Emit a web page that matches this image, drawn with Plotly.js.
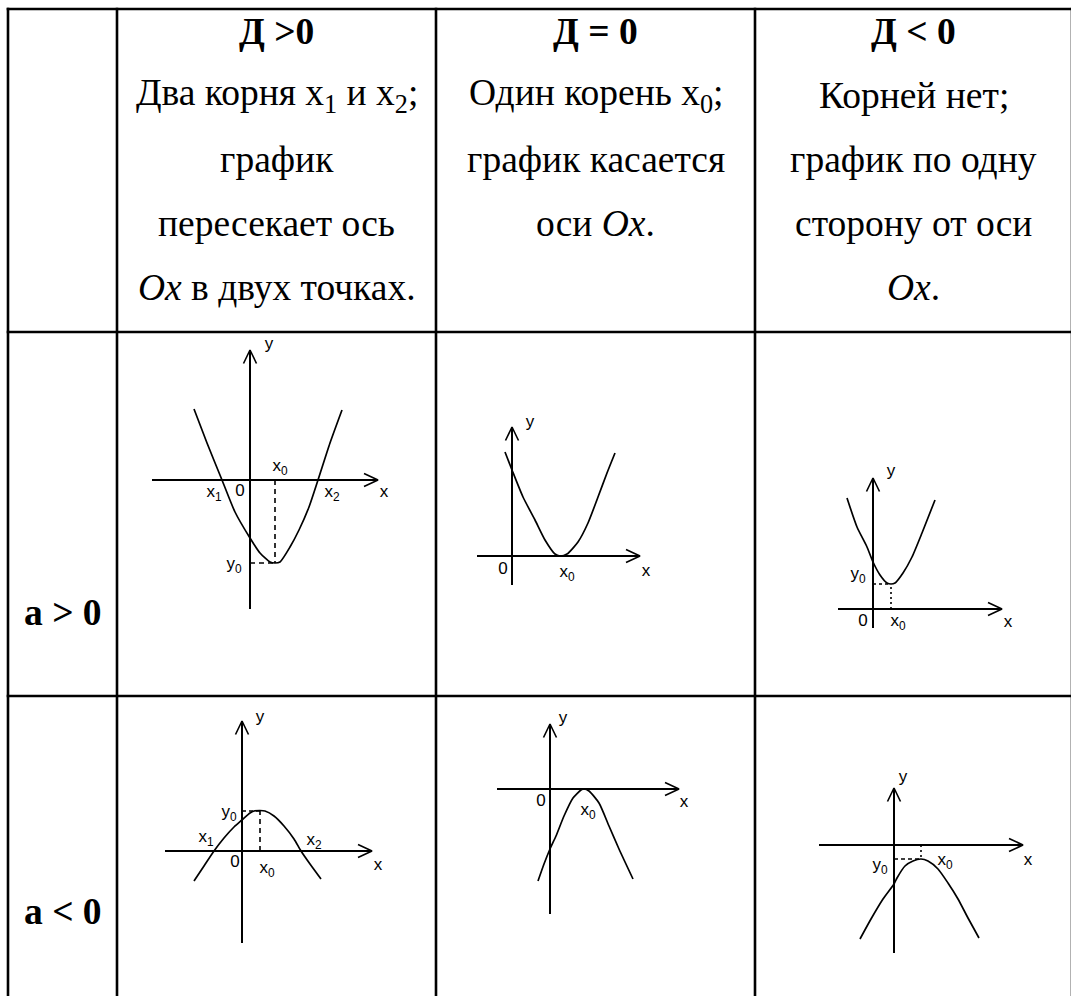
<!DOCTYPE html>
<html><head><meta charset="utf-8">
<script src="https://cdn.plot.ly/plotly-3.0.1.min.js"></script>
<style>html,body{margin:0;padding:0;background:#fff;}#chart{width:1071px;height:996px;}</style>
</head><body><div id="chart"></div>
<script>
// ---------- table text ----------
const headerTitles = ["Д &gt;0", "Д = 0", "Д &lt; 0"];
const headerLinesD1 = ["Два корня x<sub>1</sub> и x<sub>2</sub>;", "график", "пересекает ось", "<i>Ox</i> в двух точках."];
const headerLinesD2 = ["Один корень x<sub>0</sub>;", "график касается", "оси <i>Ox</i>."];
const headerLinesD3 = ["Корней нет;", "график по одну", "сторону от оси", "<i>Ox</i>."];
const rowLabels = ["a &gt; 0", "a &lt; 0"];

// ---------- sketch A: a>0, D>0 ----------
const A_curveX = [-5.6, -4.3, -2.8, -1.5, 0, 1.0, 2.0, 2.5, 3.0, 4.0, 4.9, 5.9, 6.8, 8.0, 9.2];
const A_curveY = [7.1, 3.7, 0, -3.2, -5.8, -7.3, -8.2, -8.3, -8.2, -6.7, -5.0, -2.7, 0, 3.7, 7.0];
const A_axisX = [-9.8, 12.8];
const A_axisY = [-12.9, 13.0];
const A_vertex = [2.5, -8.3];
const A_labelText = ["y", "x", "x<sub>0</sub>", "x<sub>1</sub>", "0", "x<sub>2</sub>", "y<sub>0</sub>"];
const A_labelX = [1.9, 13.4, 3.0, -3.6, -1.0, 8.2, -1.6];
const A_labelY = [13.5, -1.3, 1.3, -1.3, -1.2, -1.3, -8.5];

// ---------- sketch B: a>0, D=0 ----------
const B_curveX = [-0.7, 0, 1.1, 2.3, 3.3, 4.3, 4.8, 5.5, 6.6, 7.6, 8.6, 9.5, 10.3];
const B_curveY = [10.4, 8.6, 5.9, 3.6, 1.6, 0.2, 0, 0.2, 1.4, 3.3, 5.9, 8.3, 10.3];
const B_axisX = [-3.5, 12.8];
const B_axisY = [-2.9, 12.9];
const B_labelText = ["y", "x", "0", "x<sub>0</sub>"];
const B_labelX = [1.8, 13.4, -0.9, 5.5];
const B_labelY = [13.3, -1.6, -1.4, -1.7];

// ---------- sketch C: a>0, D<0 ----------
const C_curveX = [-2.6, -1.6, -0.6, 0, 0.7, 1.4, 1.8, 2.2, 3.0, 3.9, 4.9, 6.2];
const C_curveY = [11.1, 8.2, 6.2, 4.7, 3.4, 2.6, 2.5, 2.6, 3.6, 5.2, 7.6, 10.9];
const C_axisX = [-3.5, 12.9];
const C_axisY = [-1.9, 13.1];
const C_vertex = [1.8, 2.5];
const C_labelText = ["y", "x", "0", "x<sub>0</sub>", "y<sub>0</sub>"];
const C_labelX = [1.8, 13.5, -1.0, 2.5, -1.5];
const C_labelY = [13.7, -1.4, -1.3, -1.3, 3.4];

// ---------- sketch D: a<0, D>0 ----------
const D_curveX = [-4.8, -3.8, -2.8, -1.8, -0.8, 0, 0.8, 1.2, 1.8, 2.3, 3.2, 4.2, 5.2, 5.9, 6.8, 7.9];
const D_curveY = [-3.0, -1.5, 0, 1.3, 2.4, 3.1, 3.8, 4.0, 4.05, 4.0, 3.5, 2.5, 1.2, 0, -1.3, -2.8];
const D_axisX = [-7.7, 13.0];
const D_axisY = [-9.2, 13.0];
const D_vertex = [1.8, 4.0];
const D_labelText = ["y", "x", "0", "x<sub>0</sub>", "x<sub>1</sub>", "x<sub>2</sub>", "y<sub>0</sub>"];
const D_labelX = [1.8, 13.6, -0.7, 2.5, -3.6, 7.2, -1.3];
const D_labelY = [13.3, -1.5, -1.2, -1.8, 1.3, 1.0, 3.8];

// ---------- sketch E: a<0, D=0 ----------
const E_curveX = [-1.2, -0.6, 0, 0.6, 1.4, 2.3, 3.1, 3.4, 3.9, 4.9, 5.9, 6.9, 8.3];
const E_curveY = [-9.2, -7.5, -6.0, -4.7, -2.7, -0.9, -0.1, 0, -0.2, -1.4, -3.7, -6.0, -9.0];
const E_axisX = [-5.3, 12.9];
const E_axisY = [-12.5, 6.5];
const E_labelText = ["y", "x", "0", "x<sub>0</sub>"];
const E_labelX = [1.3, 13.4, -0.9, 3.8];
const E_labelY = [7.0, -1.4, -1.3, -2.2];

// ---------- sketch F: a<0, D<0 ----------
const F_curveX = [-3.4, -2.3, -1.1, 0, 0.3, 1.1, 1.9, 2.7, 3.4, 4.4, 5.4, 6.4, 7.4, 8.5];
const F_curveY = [-9.4, -7.4, -5.4, -3.9, -3.3, -2.1, -1.6, -1.4, -1.6, -2.4, -3.8, -5.4, -7.3, -9.3];
const F_axisX = [-7.5, 12.9];
const F_axisY = [-10.8, 5.7];
const F_vertex = [2.7, -1.4];
const F_labelText = ["y", "x", "y<sub>0</sub>", "x<sub>0</sub>"];
const F_labelX = [0.9, 13.4, -1.4, 5.1];
const F_labelY = [6.7, -1.6, -2.1, -1.6];

// ---------- layout geometry (pixels) ----------
const W = 1071, H = 996;
const colEdges = [8, 117, 436, 755, 1072];
const rowEdges = [9, 332, 696, 1000];
const UNIT = 10; // pixels per sketch unit
const serif = "Liberation Serif, Times New Roman, serif";
const sans = "Liberation Sans Narrow, Liberation Sans, Arial, sans-serif";
const headerSize = 37.5;
const labelSize = 17;
const baselines = [44, 108, 172, 236, 300];
const PX = v => v / W, PY = v => 1 - v / H;

const sketches = [
  {cell: [1, 1], origin: [250, 480], cx: A_curveX, cy: A_curveY, ax: A_axisX, ay: A_axisY, vtx: A_vertex, vd: "5px,4px", hd: "5px,4px", lt: A_labelText, lx: A_labelX, ly: A_labelY},
  {cell: [2, 1], origin: [512, 556], cx: B_curveX, cy: B_curveY, ax: B_axisX, ay: B_axisY, vtx: null, lt: B_labelText, lx: B_labelX, ly: B_labelY},
  {cell: [3, 1], origin: [873, 609], cx: C_curveX, cy: C_curveY, ax: C_axisX, ay: C_axisY, vtx: C_vertex, vd: "2px,3px", hd: "3px,3px", lt: C_labelText, lx: C_labelX, ly: C_labelY},
  {cell: [1, 2], origin: [242, 851], cx: D_curveX, cy: D_curveY, ax: D_axisX, ay: D_axisY, vtx: D_vertex, vd: "5px,4px", hd: "4px,3px", lt: D_labelText, lx: D_labelX, ly: D_labelY},
  {cell: [2, 2], origin: [550, 789], cx: E_curveX, cy: E_curveY, ax: E_axisX, ay: E_axisY, vtx: null, lt: E_labelText, lx: E_labelX, ly: E_labelY},
  {cell: [3, 2], origin: [894, 845], cx: F_curveX, cy: F_curveY, ax: F_axisX, ay: F_axisY, vtx: F_vertex, vd: "2px,3px", hd: "4px,3px", lt: F_labelText, lx: F_labelX, ly: F_labelY}
];

const data = [];
const layout = {
  width: W, height: H, autosize: false,
  margin: {l: 0, r: 0, t: 0, b: 0, pad: 0},
  paper_bgcolor: "#fff", plot_bgcolor: "rgba(0,0,0,0)",
  showlegend: false, hovermode: false,
  shapes: [], annotations: []
};

sketches.forEach((s, i) => {
  const suf = i === 0 ? "" : String(i + 1);
  const L = colEdges[s.cell[0]], R = Math.min(colEdges[s.cell[0] + 1], W);
  const T = rowEdges[s.cell[1]], B = Math.min(rowEdges[s.cell[1] + 1], H);
  const [ox, oy] = s.origin;
  layout["xaxis" + suf] = {domain: [PX(L), PX(R)], range: [(L - ox) / UNIT, (R - ox) / UNIT], visible: false, fixedrange: true, anchor: "y" + suf};
  layout["yaxis" + suf] = {domain: [1 - B / H, 1 - T / H], range: [(oy - B) / UNIT, (oy - T) / UNIT], visible: false, fixedrange: true, anchor: "x" + suf};
  const xa = "x" + suf, ya = "y" + suf;
  const line = (x, y, w, dash) => data.push({type: "scatter", mode: "lines", x, y, xaxis: xa, yaxis: ya, line: {color: "#000", width: w, dash: dash || "solid"}, hoverinfo: "skip", cliponaxis: false});
  // axes with open arrow heads
  line([s.ax[0], s.ax[1]], [0, 0], 2);
  line([s.ax[1] - 1.4, s.ax[1], s.ax[1] - 1.4], [0.65, 0, -0.65], 1.6);
  line([0, 0], [s.ay[0], s.ay[1]], 2);
  line([-0.65, 0, 0.65], [s.ay[1] - 1.35, s.ay[1], s.ay[1] - 1.35], 1.6);
  // guide lines to the vertex
  if (s.vtx) {
    line([s.vtx[0], s.vtx[0]], [0, s.vtx[1]], 1.6, s.vd);
    line([0, s.vtx[0]], [s.vtx[1], s.vtx[1]], 1.6, s.hd);
  }
  // parabola
  data.push({type: "scatter", mode: "lines", x: s.cx, y: s.cy, xaxis: xa, yaxis: ya,
    line: {color: "#000", width: 1.7, shape: "spline", smoothing: 0.6}, hoverinfo: "skip"});
  // labels
  data.push({type: "scatter", mode: "text", x: s.lx, y: s.ly, text: s.lt, xaxis: xa, yaxis: ya,
    textposition: "middle center", textfont: {family: sans, size: labelSize, color: "#000"}, hoverinfo: "skip", cliponaxis: false});
});

// table grid
const gridLine = (x0, y0, x1, y1) => layout.shapes.push({type: "line", xref: "paper", yref: "paper",
  x0: PX(x0), y0: PY(y0), x1: PX(x1), y1: PY(y1), line: {color: "#000", width: 2.6}});
colEdges.forEach(x => gridLine(x, rowEdges[0] - 1.3, x, 1000));
rowEdges.slice(0, 3).forEach(y => gridLine(colEdges[0] - 1.3, y, 1075, y));

// header text
const colCenters = [1, 2, 3].map(c => (colEdges[c] + colEdges[c + 1]) / 2);
const headerBodies = [headerLinesD1, headerLinesD2, headerLinesD3];
const addText = (txt, cx, baseline, size, bold) => layout.annotations.push({
  xref: "paper", yref: "paper", x: PX(cx), y: PY(baseline - 0.34 * size), xanchor: "center", yanchor: "middle",
  text: bold ? "<b>" + txt + "</b>" : txt, showarrow: false, borderpad: 0,
  font: {family: serif, size: size, color: "#000"}});
headerTitles.forEach((t, c) => {
  addText(t, colCenters[c], baselines[0], headerSize, true);
  headerBodies[c].forEach((ln, k) => addText(ln, colCenters[c], baselines[k + 1], headerSize, false));
});
const rowBaselines = [625, 924];
rowLabels.forEach((t, r) => addText(t, (colEdges[0] + colEdges[1]) / 2, rowBaselines[r], headerSize, true));

Plotly.newPlot("chart", data, layout, {displayModeBar: false, staticPlot: true});
</script>
</body></html>
